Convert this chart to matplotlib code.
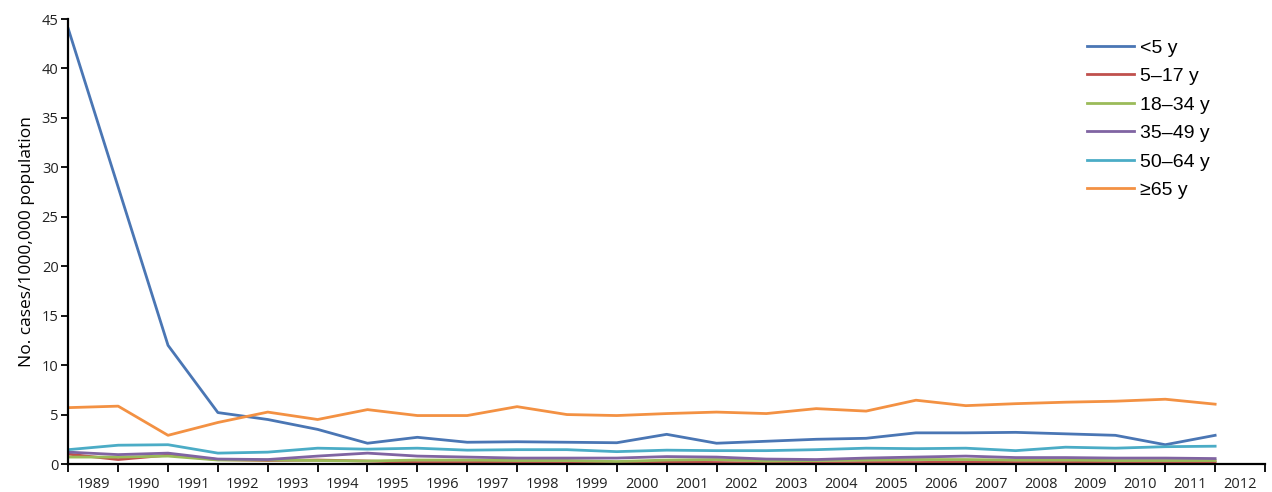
import matplotlib
matplotlib.use("Agg")
import matplotlib.pyplot as plt
import numpy as np

years = list(range(1989, 2013))

under5 = [44.0, 28.0, 12.0, 5.2, 4.5, 3.5, 2.1, 2.7, 2.2, 2.25, 2.2, 2.15,
          3.0, 2.1, 2.3, 2.5, 2.6, 3.15, 3.15, 3.2, 3.05, 2.9, 1.95, 2.9]
age5_17 = [1.0, 0.45, 0.9, 0.45, 0.35, 0.4, 0.3, 0.15, 0.15, 0.2, 0.1, 0.15,
           0.2, 0.15, 0.1, 0.1, 0.15, 0.15, 0.2, 0.15, 0.15, 0.2, 0.2, 0.2]
age18_34 = [0.7, 0.7, 0.8, 0.4, 0.4, 0.35, 0.3, 0.4, 0.4, 0.35, 0.35, 0.25,
            0.4, 0.45, 0.3, 0.35, 0.4, 0.45, 0.45, 0.4, 0.4, 0.35, 0.35, 0.35]
age35_49 = [1.2, 0.95, 1.1, 0.5, 0.45, 0.8, 1.1, 0.8, 0.7, 0.6, 0.6, 0.6,
            0.75, 0.7, 0.5, 0.45, 0.6, 0.7, 0.8, 0.65, 0.65, 0.6, 0.6, 0.55]
age50_64 = [1.45, 1.9, 1.95, 1.1, 1.2, 1.6, 1.5, 1.6, 1.4, 1.45, 1.45, 1.25,
            1.4, 1.35, 1.35, 1.45, 1.6, 1.55, 1.6, 1.35, 1.7, 1.6, 1.75, 1.8]
age65 = [5.7, 5.85, 2.9, 4.2, 5.25, 4.5, 5.5, 4.9, 4.9, 5.8, 5.0, 4.9,
         5.1, 5.25, 5.1, 5.6, 5.35, 6.45, 5.9, 6.1, 6.25, 6.35, 6.55, 6.05]

labels = ["<5 y", "5–17 y", "18–34 y", "35–49 y", "50–64 y", "≥65 y"]
colors = ["#4A76B4", "#C0504D", "#9BBB59", "#8064A2", "#4BACC6", "#F39143"]
series = [under5, age5_17, age18_34, age35_49, age50_64, age65]

fig = plt.figure(figsize=(12.72, 4.92), dpi=100)
ax = fig.add_axes([68.3/1272, 1-464/492, (1265-68.3)/1272, (464-19)/492])

x = np.arange(len(years))
for s, c, l in zip(series, colors, labels):
    ax.plot(x, s, color=c, lw=2.0, label=l)

ax.set_xlim(0, len(years))
ax.set_ylim(0, 45)
ax.set_yticks(range(0, 46, 5))
ax.set_xticks(np.arange(0, len(years) + 1))
ax.set_xticklabels([])
ax.set_xticks(x + 0.5, minor=True)
ax.set_xticklabels([str(y) for y in years], minor=True)
ax.tick_params(axis="x", which="minor", length=0, pad=9)
ax.tick_params(axis="x", which="major", length=6, width=1.3, direction="out")
ax.tick_params(axis="y", length=5, width=1.3, direction="out", pad=2)
for t in ax.get_xticklabels(minor=True) + ax.get_yticklabels():
    t.set_fontfamily("Open Sans")
    t.set_fontsize(10.5)
    t.set_color("#222222")

for side in ["top", "right"]:
    ax.spines[side].set_visible(False)
for side in ["left", "bottom"]:
    ax.spines[side].set_linewidth(1.6)

ax.set_ylabel("No. cases/1000,000 population", fontfamily="Open Sans", fontsize=12.5, labelpad=5)

fig.legend(loc="upper left", bbox_to_anchor=(1087/1272, 1-39/492), frameon=False,
           prop={"family": "Liberation Sans", "size": 14}, handlelength=2.4,
           handletextpad=0.3, labelspacing=0.56, borderpad=0, borderaxespad=0)

fig.savefig("out.png", dpi=100, facecolor="white")
